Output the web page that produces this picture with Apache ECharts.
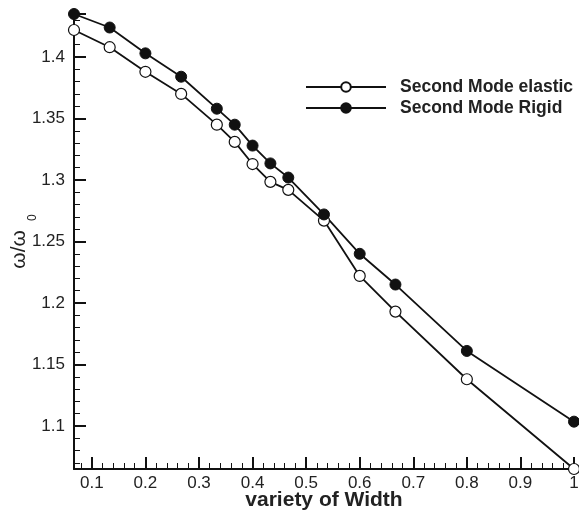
<!DOCTYPE html>
<html>
    <head>
        <title>Second Mode</title>
        <meta charset="UTF-8">
        <script src="https://cdn.jsdelivr.net/npm/echarts@6/dist/echarts.min.js"></script>
    </head>
    <body style="margin:0;background:#fff">
    <div id="main" style="width:579px;height:513px;"></div>
    <script type="text/javascript">
        // data
        var widthValues = [0.0667, 0.1333, 0.2, 0.2667, 0.3333, 0.3667, 0.4, 0.4333, 0.4667, 0.5333, 0.6, 0.6667, 0.8, 1.0];
        var elasticValues = [1.422, 1.408, 1.388, 1.370, 1.345, 1.331, 1.313, 1.2985, 1.292, 1.267, 1.222, 1.193, 1.138, 1.065];
        var rigidValues = [1.435, 1.424, 1.403, 1.384, 1.358, 1.345, 1.328, 1.3135, 1.302, 1.272, 1.240, 1.215, 1.161, 1.1035];
        var seriesNames = ['Second Mode elastic', 'Second Mode Rigid'];

        function pairs(xs, ys) {
            var out = [];
            for (var i = 0; i < xs.length; i++) {
                out.push([xs[i], ys[i]]);
            }
            return out;
        }

        var font = 'Liberation Sans, Arial, sans-serif';
        var ink = '#111';

        var myChart = echarts.init(document.getElementById('main'));

        var option = {
            animation: false,
            backgroundColor: '#FFFFFF',
            grid: {left: 74, right: 5, top: 14, bottom: 44, outerBoundsMode: 'none'},
            legend: {
                orient: 'vertical',
                left: 300,
                top: 73,
                itemWidth: 80,
                itemHeight: 12,
                itemGap: 3,
                data: seriesNames,
                textStyle: {fontFamily: font, fontSize: 17.5, fontWeight: 'bold', color: '#222', padding: [0, 0, 0, 9]}
            },
            xAxis: {
                type: 'value',
                min: 'dataMin',
                max: 'dataMax',
                minInterval: 0.1,
                maxInterval: 0.1,
                name: 'variety of Width',
                nameLocation: 'middle',
                nameGap: 21,
                nameMoveOverlap: false,
                nameTextStyle: {fontFamily: font, fontSize: 21, fontWeight: 'bold', color: '#222'},
                splitLine: {show: false},
                axisLine: {lineStyle: {color: ink, width: 2}},
                axisTick: {inside: true, length: 12, lineStyle: {color: ink, width: 2}},
                minorTick: {show: true, splitNumber: 5, length: 6, lineStyle: {color: ink, width: 1}},
                axisLabel: {
                    fontFamily: font, fontSize: 17, color: '#222', margin: 6,
                    formatter: function (v) {
                        return Math.abs(v * 10 - Math.round(v * 10)) < 1e-6 ? String(+v.toFixed(1)) : '';
                    }
                }
            },
            yAxis: {
                type: 'value',
                min: 'dataMin',
                max: 'dataMax',
                minInterval: 0.05,
                maxInterval: 0.05,
                name: '{w|ω/ω}{s|0}',
                nameLocation: 'middle',
                nameRotate: 90,
                nameGap: 35,
                nameMoveOverlap: false,
                nameTextStyle: {
                    fontFamily: font, color: '#222',
                    rich: {
                        w: {fontFamily: font, fontSize: 21, color: '#222'},
                        s: {fontFamily: font, fontSize: 12, color: '#222', padding: [28, 0, 0, 9]}
                    }
                },
                splitLine: {show: false},
                axisLine: {lineStyle: {color: ink, width: 2}},
                axisTick: {inside: true, length: 12, lineStyle: {color: ink, width: 2}},
                minorTick: {show: true, splitNumber: 5, length: 6, lineStyle: {color: ink, width: 1}},
                axisLabel: {
                    fontFamily: font, fontSize: 17, color: '#222', margin: 9,
                    formatter: function (v) {
                        return Math.abs(v * 20 - Math.round(v * 20)) < 1e-6 ? String(+v.toFixed(2)) : '';
                    }
                }
            },
            series: [
                {
                    name: seriesNames[0],
                    type: 'line',
                    clip: false,
                    data: pairs(widthValues, elasticValues),
                    symbol: 'circle',
                    symbolSize: 11,
                    lineStyle: {color: ink, width: 1.8},
                    itemStyle: {color: '#fff', borderColor: ink, borderWidth: 1.2}
                },
                {
                    name: seriesNames[1],
                    type: 'line',
                    clip: false,
                    data: pairs(widthValues, rigidValues),
                    symbol: 'circle',
                    symbolSize: 11,
                    lineStyle: {color: ink, width: 1.8},
                    itemStyle: {color: ink, borderColor: ink, borderWidth: 1}
                }
            ]
        };

        myChart.setOption(option);
    </script>
    </body>
</html>
